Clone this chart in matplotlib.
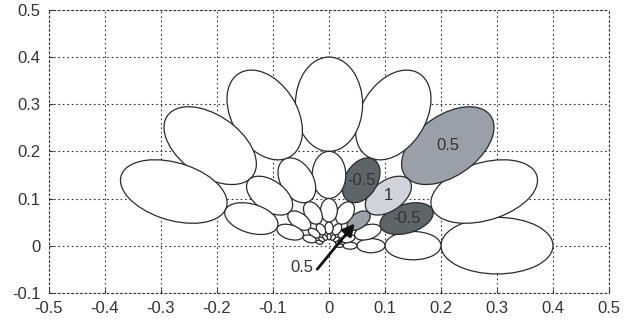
import numpy as np
import matplotlib
matplotlib.use('Agg')
import matplotlib.pyplot as plt
from matplotlib.patches import Ellipse

# ring radii and cell angles (deg) of the fan
ring_radii = [0.3, 0.15, 0.075, 0.0375, 0.01875]
angles = [0, 22.5, 45, 67.5, 90, 112.5, 135, 157.5]
radial_frac = 1 / 3.0   # radial semi-axis / ring radius
tang_frac = 0.2         # tangential semi-axis / ring radius

# weighted cells: (ring radius, angle, weight, show text)
cells = [(0.3, 45, 0.5, True),
         (0.15, 22.5, -0.5, True),
         (0.15, 45, 1, True),
         (0.15, 67.5, -0.5, True),
         (0.075, 45, 0.5, False)]
weight_colors = {1: '#d0d3d9', 0.5: '#9aa0a9', -0.5: '#5e6569'}

arrow_label = '0.5'
arrow_tail = (-0.021, -0.05)
arrow_head = (0.046, 0.047)

xticks = [-0.5, -0.4, -0.3, -0.2, -0.1, 0, 0.1, 0.2, 0.3, 0.4, 0.5]
yticks = [-0.1, 0, 0.1, 0.2, 0.3, 0.4, 0.5]

plt.rcParams['font.family'] = ['Liberation Sans', 'DejaVu Sans']

fig = plt.figure(figsize=(6.42, 3.2), dpi=100)
ax = fig.add_axes([0.0763, 0.085, 0.8723, 0.884])

weights = {(r, a): (w, t) for r, a, w, t in cells}

for r in ring_radii:
    for a in angles:
        th = np.deg2rad(a)
        cx, cy = r * np.cos(th), r * np.sin(th)
        w, show = weights.get((r, a), (None, False))
        face = weight_colors[w] if w is not None else 'white'
        ax.add_patch(Ellipse((cx, cy), 2 * radial_frac * r, 2 * tang_frac * r,
                             angle=a, facecolor=face, edgecolor='#2a2a2a',
                             linewidth=0.9, zorder=3))
        if show:
            ax.text(cx, cy, ('%g' % w), ha='center', va='center',
                    fontsize=12, color='#333333', zorder=4)

ax.annotate('', xy=arrow_head, xytext=arrow_tail,
            arrowprops=dict(arrowstyle='-|>', color='#111111', lw=2,
                            mutation_scale=18, shrinkA=0, shrinkB=0),
            zorder=5)
ax.text(arrow_tail[0] - 0.006, arrow_tail[1] + 0.003, arrow_label,
        ha='right', va='center', fontsize=12, color='#333333')

ax.set_xlim(-0.5, 0.5)
ax.set_ylim(-0.1, 0.5)
ax.set_xticks(xticks)
ax.set_yticks(yticks)
ax.set_xticklabels(['%g' % v for v in xticks])
ax.set_yticklabels(['%g' % v for v in yticks])
ax.tick_params(direction='in', length=3, width=0.8, colors='#333333',
               labelsize=12, labelcolor='#333333')
ax.tick_params(axis='y', pad=6)
ax.tick_params(axis='x', pad=6)
ax.grid(True, linestyle=(0, (1.5, 2.5)), color='#333333', linewidth=0.8, zorder=0)
for s in ax.spines.values():
    s.set_linestyle((0, (1.5, 2.5)))
    s.set_color('#333333')
    s.set_linewidth(0.8)
ax.set_axisbelow(True)

fig.savefig('out.png', dpi=100)
